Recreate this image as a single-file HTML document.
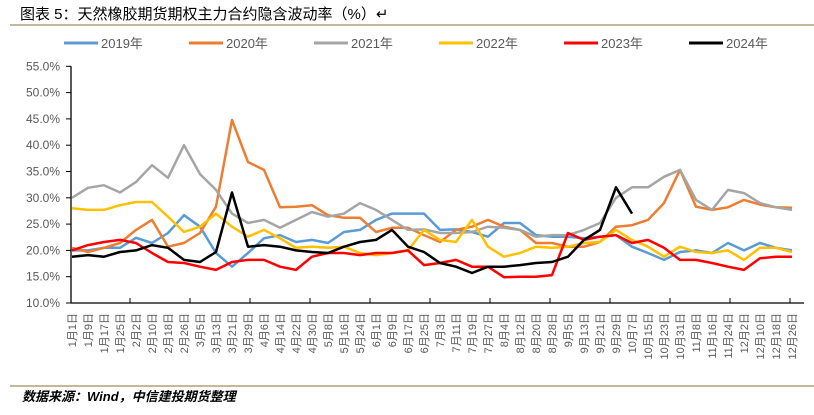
<!DOCTYPE html>
<html><head><meta charset="utf-8"><style>
body{margin:0;background:#fff;width:814px;height:410px;overflow:hidden;font-family:"Liberation Sans","Noto Sans CJK SC",sans-serif}
svg text{font-family:"Liberation Sans","Noto Sans CJK SC",sans-serif}
</style></head><body>
<svg width="814" height="410">
<text x="20" y="19" font-size="15" fill="#000">图表 5：天然橡胶期货期权主力合约隐含波动率（%）↵</text>
<line x1="10" y1="25" x2="814" y2="25" stroke="#a08c5f" stroke-width="1.2"/>
<g id="legend"></g>
<g id="axes"></g>
<g id="series"></g>
<line x1="10" y1="386" x2="814" y2="386" stroke="#a08c5f" stroke-width="1.2"/>
<text x="22" y="401" font-size="13" font-weight="bold" font-style="italic" fill="#000">数据来源：Wind，中信建投期货整理</text>
</svg>
<script>
const days = [];
for (let d = 0; d <= 360; d += 8) days.push(d);
const seriesNames = ["2019年","2020年","2021年","2022年","2023年","2024年"];
const seriesColors = ["#5b9bd5","#ed7d31","#a5a5a5","#ffc000","#ff0000","#000000"];
const y2019 = [20,20,20.5,20.5,22.4,21.4,23.3,26.7,24.5,19.5,16.9,19.5,22.3,22.9,21.6,22,21.4,23.5,23.9,25.8,27,27,27,23.9,24,23.5,22.6,25.2,25.2,22.9,22.6,22.6,22.3,22.6,22.9,20.7,19.5,18.2,19.7,20,19.5,21.4,20,21.4,20.5,20];
const y2020 = [20.5,19.7,20.5,21.4,23.9,25.8,20.7,21.4,23.3,28.3,44.8,36.8,35.3,28.2,28.3,28.6,26.7,26.2,26.2,23.5,24.3,24.3,22.9,21.6,23.9,24.5,25.8,24.5,23.9,21.4,21.4,20.7,20.7,21.6,24.5,24.8,25.8,29,35.3,28.3,27.7,28.2,29.6,28.7,28.2,28.1];
const y2021 = [30,31.9,32.4,31,33,36.2,33.8,40,34.5,31.5,27,25.2,25.8,24.3,25.8,27.3,26.4,27,29,27.7,25.8,23.9,24,23.3,23.3,23.5,24.5,24.3,23.9,22.6,22.9,22.9,23.9,25.2,30,32,32,34,35.3,29.6,27.7,31.5,30.9,29,28.2,27.7];
const y2022 = [28,27.7,27.7,28.6,29.2,29.2,26.4,23.5,24.5,27,24.5,22.6,23.9,22.3,20.5,20.7,20.5,20.7,19.5,19.1,19.5,20,23.9,22,21.6,25.8,20.7,18.8,19.5,20.7,20.5,20.7,21.4,21.6,23.9,22,20.7,18.8,20.7,19.7,19.5,20,18.2,20.5,20.5,19.7];
const y2023 = [20,21,21.6,22,21.4,19.5,17.8,17.6,16.9,16.3,17.8,18.2,18.2,16.9,16.3,18.8,19.5,19.5,19.1,19.5,19.5,20,17.2,17.6,18.2,16.9,16.9,14.9,15,15,15.3,23.3,22,22.6,22.9,21.4,22,20.5,18.2,18.2,17.6,16.9,16.3,18.5,18.8,18.8];
const y2024 = [18.8,19.1,18.8,19.7,20,21,20.5,18.2,17.8,19.7,31,20.7,21,20.7,20,19.7,19.5,20.7,21.6,22,23.9,20.7,19.7,17.6,16.9,15.7,16.9,16.9,17.2,17.6,17.8,18.8,22,23.9,32,27];
const yTicks = [10,15,20,25,30,35,40,45,50,55];
const allSeries = [y2019,y2020,y2021,y2022,y2023,y2024];

const NS = "http://www.w3.org/2000/svg";
const X0 = 72, PX_PER_DAY = 2, Y10 = 303, PX_PER_PCT = 5.26;
const xs = d => X0 + d * PX_PER_DAY;
const ys = v => Y10 - (v - 10) * PX_PER_PCT;
function mk(tag, attrs, parent){ const e=document.createElementNS(NS,tag); for(const k in attrs) e.setAttribute(k,attrs[k]); parent.appendChild(e); return e; }

const axes = document.getElementById('axes');
const yAxis = mk('line',{x1:71,y1:ys(55),x2:71,y2:Y10,stroke:'#000','stroke-width':1.3},axes);


const xAxis = mk('line',{x1:71,y1:Y10,x2:804,y2:Y10,stroke:'#000','stroke-width':1.3},axes);


yTicks.forEach(v=>{
  const t = mk('line',{x1:66,y1:ys(v),x2:71,y2:ys(v),stroke:'#000','stroke-width':1},axes);
  
  
  const l = mk('text',{x:60,y:ys(v)+4,'font-size':12,fill:'#595959','text-anchor':'end'},axes);
  
  
  l.textContent = v.toFixed(1) + '%';
});
for(let x=130; x<=800; x+=60){
  const t = mk('line',{x1:x,y1:Y10-5,x2:x,y2:Y10,stroke:'#000','stroke-width':1},axes);
  
  
}
days.forEach((d)=>{
  const dt = new Date(2024,0,1+d);
  const x = xs(d)+4;
  const l = mk('text',{x:x,y:313,'font-size':11,fill:'#595959','text-anchor':'end',transform:`rotate(-90 ${x} 313)`},axes);
  
  
  l.textContent = (dt.getMonth()+1) + '月' + dt.getDate() + '日';
});

const sg = document.getElementById('series');
allSeries.forEach((arr,si)=>{
  const pts = arr.map((v,i)=>xs(days[i]).toFixed(1)+','+ys(v).toFixed(1)).join(' ');
  const p = mk('polyline',{points:pts,fill:'none',stroke:seriesColors[si],'stroke-width':2.5,'stroke-linejoin':'round'},sg);
  
  
});

const lg = document.getElementById('legend');
seriesNames.forEach((n,i)=>{
  const x = 64 + i*125;
  const ln = mk('line',{x1:x,y1:43,x2:x+34,y2:43,stroke:seriesColors[i],'stroke-width':3},lg);
  
  
  const t = mk('text',{x:x+37,y:48,'font-size':13,fill:'#595959'},lg);
  
  
  t.textContent = n;
});
</script>
</body></html>
